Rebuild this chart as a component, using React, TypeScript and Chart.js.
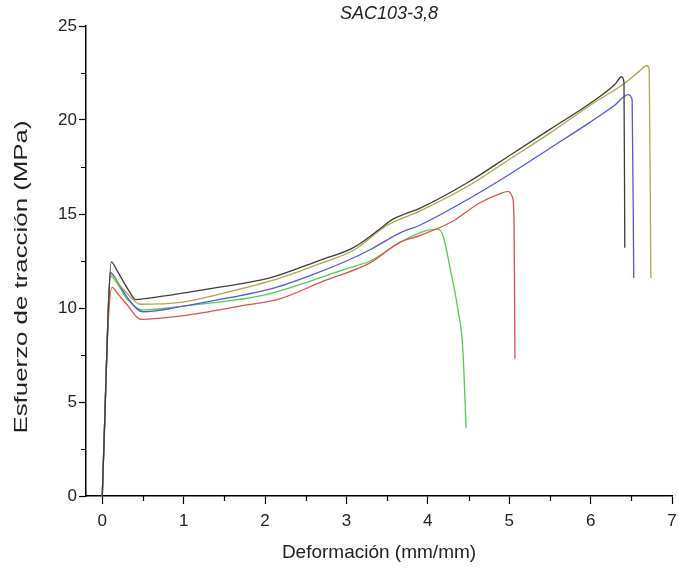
import React, { useEffect, useRef } from "react";
import { Chart, registerables } from "chart.js";
Chart.register(...registerables);

const TITLE = "SAC103-3,8";
const X_LABEL = "Deformación (mm/mm)";
const Y_LABEL = "Esfuerzo de tracción (MPa)";
const X_TICKS = [0, 1, 2, 3, 4, 5, 6, 7];
const Y_TICKS = [0, 5, 10, 15, 20, 25];
const X_MINOR = [0.5, 1.5, 2.5, 3.5, 4.5, 5.5, 6.5];
const Y_MINOR = [2.5, 7.5, 12.5, 17.5, 22.5];

const blackX = [0, 0.03, 0.07, 0.11, 0.18, 0.26, 0.33, 0.41, 0.7, 1.0, 1.5, 2.06, 2.68, 3.08, 3.41, 3.56, 3.72, 3.9, 4.5, 5.0, 5.5, 6.0, 6.3, 6.38, 6.41, 6.42];
const blackY = [0, 4, 9.5, 12.45, 12.0, 11.4, 10.9, 10.45, 10.6, 10.8, 11.15, 11.6, 12.55, 13.2, 14.2, 14.7, 15.0, 15.3, 16.7, 18.1, 19.5, 20.9, 21.9, 22.3, 22.0, 13.2];

const oliveX = [0, 0.03, 0.07, 0.1, 0.2, 0.3, 0.47, 0.96, 1.5, 2.19, 2.7, 3.1, 3.5, 3.9, 4.5, 5.0, 5.5, 6.0, 6.4, 6.6, 6.69, 6.72, 6.74];
const oliveY = [0, 4, 9.5, 11.8, 11.3, 10.8, 10.2, 10.3, 10.8, 11.6, 12.4, 13.1, 14.4, 15.15, 16.5, 17.9, 19.3, 20.8, 21.9, 22.6, 22.9, 22.7, 11.6];

const blueX = [0, 0.03, 0.07, 0.1, 0.2, 0.3, 0.5, 1.0, 1.5, 2.06, 2.6, 3.0, 3.29, 3.66, 3.9, 4.5, 5.0, 5.5, 6.0, 6.3, 6.46, 6.51, 6.53];
const blueY = [0, 4, 9.5, 11.9, 11.3, 10.6, 9.8, 10.1, 10.5, 11.0, 11.8, 12.5, 13.1, 14.0, 14.4, 15.8, 17.1, 18.5, 19.9, 20.8, 21.35, 21.1, 11.6];

const redX = [0, 0.03, 0.07, 0.12, 0.2, 0.3, 0.47, 1.0, 1.69, 2.19, 2.7, 3.29, 3.66, 3.9, 4.3, 4.64, 4.9, 4.99, 5.04, 5.06, 5.07];
const redY = [0, 4, 9.0, 11.1, 10.7, 10.2, 9.4, 9.6, 10.1, 10.5, 11.4, 12.4, 13.5, 13.85, 14.6, 15.6, 16.1, 16.2, 15.9, 14.5, 7.3];

const greenX = [0, 0.03, 0.07, 0.1, 0.2, 0.3, 0.5, 1.0, 1.5, 2.0, 2.6, 3.0, 3.29, 3.66, 3.9, 4.03, 4.13, 4.19, 4.27, 4.37, 4.43, 4.47];
const greenY = [0, 4, 9.5, 11.7, 11.2, 10.5, 9.9, 10.1, 10.35, 10.7, 11.5, 12.1, 12.5, 13.5, 14.0, 14.15, 14.2, 13.8, 12.2, 9.9, 7.8, 3.6];

const SERIES = [
  { name: "Probeta 1", xs: blackX, ys: blackY, color: "#3c3c3c" },
  { name: "Probeta 2", xs: oliveX, ys: oliveY, color: "#b0a648" },
  { name: "Probeta 3", xs: blueX, ys: blueY, color: "#5656dc" },
  { name: "Probeta 4", xs: redX, ys: redY, color: "#e05050" },
  { name: "Probeta 5", xs: greenX, ys: greenY, color: "#4fd04f" },
];

const FONT = "'Liberation Sans', Arial, sans-serif";

const decorPlugin = {
  id: "decor",
  afterDraw(chart: any) {
    const { ctx, chartArea, scales } = chart;
    ctx.save();
    ctx.strokeStyle = "#000";
    ctx.lineWidth = 1.2;
    // minor ticks
    ctx.beginPath();
    X_MINOR.forEach((v) => {
      const px = Math.round(scales.x.getPixelForValue(v)) + 0.5;
      ctx.moveTo(px, chartArea.bottom);
      ctx.lineTo(px, chartArea.bottom + 5);
    });
    Y_MINOR.forEach((v) => {
      const py = Math.round(scales.y.getPixelForValue(v)) + 0.5;
      ctx.moveTo(chartArea.left - 5, py);
      ctx.lineTo(chartArea.left, py);
    });
    ctx.stroke();
    // title
    ctx.fillStyle = "#222";
    ctx.font = `italic 18px ${FONT}`;
    ctx.textAlign = "center";
    ctx.textBaseline = "middle";
    ctx.fillText(TITLE, (chartArea.left + chartArea.right) / 2 + 10, 14);
    // y axis title (stretched along its length like the reference)
    ctx.translate(22, 277);
    ctx.rotate(-Math.PI / 2);
    ctx.scale(1.36, 1);
    ctx.font = `19px ${FONT}`;
    ctx.fillText(Y_LABEL, 0, 0);
    ctx.restore();
  },
};

export default function App() {
  const ref = useRef<HTMLCanvasElement>(null);
  useEffect(() => {
    if (!ref.current) return;
    const chart = new Chart(ref.current, {
      type: "line",
      data: {
        datasets: SERIES.map((s) => ({
          label: s.name,
          data: s.xs.map((x, i) => ({ x, y: s.ys[i] })),
          borderColor: s.color,
          backgroundColor: s.color,
          borderWidth: 1.3,
          pointRadius: 0,
          cubicInterpolationMode: "monotone" as const,
          fill: false,
        })),
      },
      options: {
        responsive: false,
        animation: false,
        layout: { padding: { top: 26, right: 6, left: 0, bottom: 0 } },
        plugins: {
          legend: { display: false },
          tooltip: { enabled: false },
          title: { display: false },
        },
        scales: {
          x: {
            type: "linear",
            min: -0.2,
            max: 7,
            afterBuildTicks: (s: any) => {
              s.ticks = X_TICKS.map((v) => ({ value: v }));
            },
            afterFit: (s: any) => {
              s.height = 78;
              s.paddingLeft = 0;
              s.paddingRight = 0;
            },
            ticks: {
              color: "#222",
              font: { family: FONT, size: 17 },
              padding: 7,
              maxRotation: 0,
              autoSkip: false,
            },
            grid: {
              drawOnChartArea: false,
              drawTicks: true,
              tickLength: 8,
              tickColor: "#000",
              tickWidth: 1.2,
            },
            border: { display: true, color: "#000", width: 1.5 },
            title: {
              display: true,
              text: X_LABEL,
              color: "#222",
              font: { family: FONT, size: 19 },
              padding: { top: 2, bottom: 10 },
            },
          },
          y: {
            type: "linear",
            min: 0,
            max: 25,
            afterBuildTicks: (s: any) => {
              s.ticks = Y_TICKS.map((v) => ({ value: v }));
            },
            afterFit: (s: any) => {
              s.width = 86;
              s.paddingTop = 0;
              s.paddingBottom = 0;
            },
            ticks: {
              color: "#222",
              font: { family: FONT, size: 17 },
              padding: 2,
            },
            grid: {
              drawOnChartArea: false,
              drawTicks: true,
              tickLength: 7,
              tickColor: "#000",
              tickWidth: 1.2,
            },
            border: { display: true, color: "#000", width: 1.5 },
            title: { display: false },
          },
        },
      },
      plugins: [decorPlugin],
    });
    return () => chart.destroy();
  }, []);
  return (
    <div style={{ position: "absolute", left: 0, top: 0, width: 678, height: 574, background: "#fff" }}>
      <canvas ref={ref} width={678} height={574} style={{ display: "block" }} />
    </div>
  );
}
